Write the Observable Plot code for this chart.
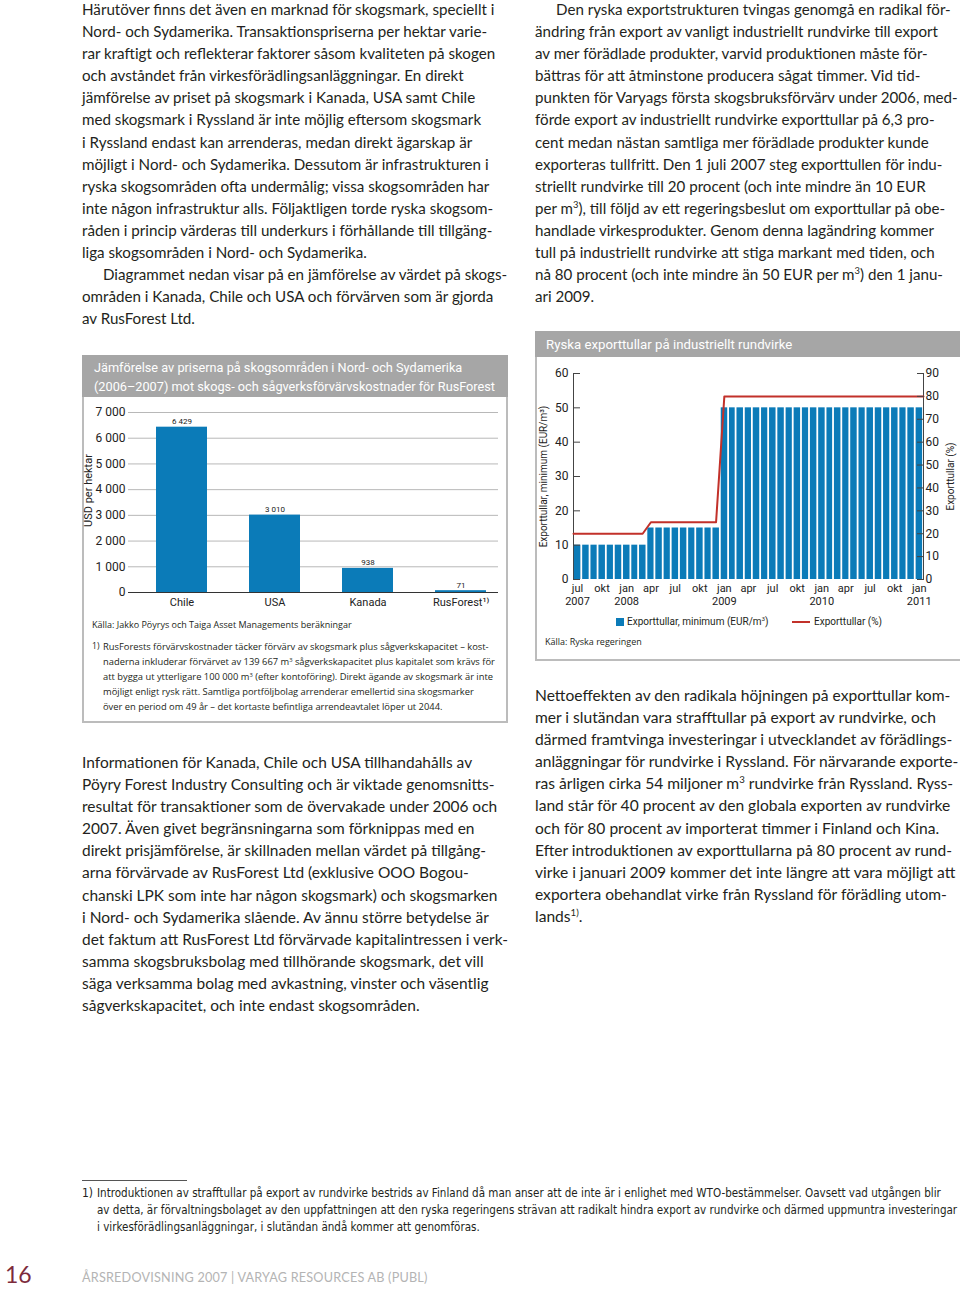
<!DOCTYPE html>
<html><head><meta charset="utf-8">
<script src="https://cdn.jsdelivr.net/npm/d3@7"></script>
<script src="https://cdn.jsdelivr.net/npm/@observablehq/plot@0.6"></script>
<style>
html,body{margin:0;padding:0;background:#fff;}
#page{position:relative;width:960px;height:1289px;overflow:hidden;font-family:Lato,"Open Sans",sans-serif;color:#231f20;}
.col{position:absolute;font-size:15px;line-height:22.1px;}
.col div{white-space:nowrap;}
.ind{padding-left:21px;}
sup{font-size:0.62em;line-height:0;vertical-align:0.6em;}
.box{position:absolute;border:2px solid #bcbcbc;box-sizing:border-box;background:#fff;}
.hdr{position:absolute;background:#a6a6a6;color:#fff;font-family:Roboto,sans-serif;}
.note{position:absolute;font-family:"Open Sans",sans-serif;color:#231f20;white-space:nowrap;}
svg{position:absolute;}
</style></head>
<body><div id="page">

<div class="col" id="c1" style="left:82px;top:-2px;">
<div>Härutöver finns det även en marknad för skogsmark, speciellt i</div>
<div>Nord- och Sydamerika. Transaktionspriserna per hektar varie-</div>
<div>rar kraftigt och reflekterar faktorer såsom kvaliteten på skogen</div>
<div>och avståndet från virkesförädlingsanläggningar. En direkt</div>
<div>jämförelse av priset på skogsmark i Kanada, USA samt Chile</div>
<div>med skogsmark i Ryssland är inte möjlig eftersom skogsmark</div>
<div>i Ryssland endast kan arrenderas, medan direkt ägarskap är</div>
<div>möjligt i Nord- och Sydamerika. Dessutom är infrastrukturen i</div>
<div>ryska skogsområden ofta undermålig; vissa skogsområden har</div>
<div>inte någon infrastruktur alls. Följaktligen torde ryska skogsom-</div>
<div>råden i princip värderas till underkurs i förhållande till tillgäng-</div>
<div>liga skogsområden i Nord- och Sydamerika.</div>
<div class="ind">Diagrammet nedan visar på en jämförelse av värdet på skogs-</div>
<div>områden i Kanada, Chile och USA och förvärven som är gjorda</div>
<div>av RusForest Ltd.</div>
</div>

<div class="col" id="c2" style="left:82px;top:751px;">
<div>Informationen för Kanada, Chile och USA tillhandahålls av</div>
<div>Pöyry Forest Industry Consulting och är viktade genomsnitts-</div>
<div>resultat för transaktioner som de övervakade under 2006 och</div>
<div>2007. Även givet begränsningarna som förknippas med en</div>
<div>direkt prisjämförelse, är skillnaden mellan värdet på tillgång-</div>
<div>arna förvärvade av RusForest Ltd (exklusive OOO Bogou-</div>
<div>chanski LPK som inte har någon skogsmark) och skogsmarken</div>
<div>i Nord- och Sydamerika slående. Av ännu större betydelse är</div>
<div>det faktum att RusForest Ltd förvärvade kapitalintressen i verk-</div>
<div>samma skogsbruksbolag med tillhörande skogsmark, det vill</div>
<div>säga verksamma bolag med avkastning, vinster och väsentlig</div>
<div>sågverkskapacitet, och inte endast skogsområden.</div>
</div>

<div class="col" id="c3" style="left:535px;top:-2px;">
<div class="ind">Den ryska exportstrukturen tvingas genomgå en radikal för-</div>
<div>ändring från export av vanligt industriellt rundvirke till export</div>
<div>av mer förädlade produkter, varvid produktionen måste för-</div>
<div>bättras för att åtminstone producera sågat timmer. Vid tid-</div>
<div>punkten för Varyags första skogsbruksförvärv under 2006, med-</div>
<div>förde export av industriellt rundvirke exporttullar på 6,3 pro-</div>
<div>cent medan nästan samtliga mer förädlade produkter kunde</div>
<div>exporteras tullfritt. Den 1 juli 2007 steg exporttullen för indu-</div>
<div>striellt rundvirke till 20 procent (och inte mindre än 10 EUR</div>
<div>per m<sup>3</sup>), till följd av ett regeringsbeslut om exporttullar på obe-</div>
<div>handlade virkesprodukter. Genom denna lagändring kommer</div>
<div>tull på industriellt rundvirke att stiga markant med tiden, och</div>
<div>nå 80 procent (och inte mindre än 50 EUR per m<sup>3</sup>) den 1 janu-</div>
<div>ari 2009.</div>
</div>

<div class="col" id="c4" style="left:535px;top:684px;">
<div>Nettoeffekten av den radikala höjningen på exporttullar kom-</div>
<div>mer i slutändan vara strafftullar på export av rundvirke, och</div>
<div>därmed framtvinga investeringar i utvecklandet av förädlings-</div>
<div>anläggningar för rundvirke i Ryssland. För närvarande exporte-</div>
<div>ras årligen cirka 54 miljoner m<sup>3</sup> rundvirke från Ryssland. Ryss-</div>
<div>land står för 40 procent av den globala exporten av rundvirke</div>
<div>och för 80 procent av importerat timmer i Finland och Kina.</div>
<div>Efter introduktionen av exporttullarna på 80 procent av rund-</div>
<div>virke i januari 2009 kommer det inte längre att vara möjligt att</div>
<div>exportera obehandlat virke från Ryssland för förädling utom-</div>
<div>lands<sup>1)</sup>.</div>
</div>

<!-- left chart box -->
<div class="box" style="left:82px;top:355px;width:426px;height:368px;"></div>
<div class="hdr" style="left:82px;top:355px;width:426px;height:42px;"></div>
<div class="hdr" id="h1" style="left:94px;top:357.5px;background:none;font-size:13px;line-height:19px;white-space:nowrap;">
<div>Jämförelse av priserna på skogsområden i Nord- och Sydamerika</div>
<div>(2006–2007) mot skogs- och sågverksförvärvskostnader för RusForest</div>
</div>
<div id="chart1"></div>
<div class="note" style="left:92px;top:618px;font-size:9px;line-height:14px;">Källa: Jakko Pöyrys och Taiga Asset Managements beräkningar</div>
<div class="note" style="left:92px;top:639px;font-size:8.6px;line-height:15px;">1)</div>
<div class="note" id="fn1" style="left:103px;top:639px;font-size:8.6px;line-height:15px;">
<div>RusForests förvärvskostnader täcker förvärv av skogsmark plus sågverkskapacitet – kost-</div>
<div>naderna inkluderar förvärvet av 139 667 m<sup>3</sup> sågverkskapacitet plus kapitalet som krävs för</div>
<div>att bygga ut ytterligare 100 000 m<sup>3</sup> (efter kontoföring). Direkt ägande av skogsmark är inte</div>
<div>möjligt enligt rysk rätt. Samtliga portföljbolag arrenderar emellertid sina skogsmarker</div>
<div>över en period om 49 år – det kortaste befintliga arrendeavtalet löper ut 2044.</div>
</div>

<!-- right chart box -->
<div class="box" style="left:535px;top:331px;width:430px;height:330px;"></div>
<div class="hdr" style="left:535px;top:331px;width:430px;height:26px;"></div>
<div class="hdr" id="h2" style="left:546px;top:334.5px;background:none;font-size:12.5px;line-height:19px;white-space:nowrap;"><div>Ryska exporttullar på industriellt rundvirke</div></div>
<div id="chart2"></div>
<div class="note" style="left:616px;top:618px;width:8px;height:8px;background:#0b7bb8;"></div>
<div class="note" style="left:627px;top:615px;font-family:Roboto,sans-serif;font-size:10px;line-height:14px;">Exporttullar, minimum (EUR/m<sup>3</sup>)</div>
<div class="note" style="left:792px;top:621px;width:18px;height:2px;background:#c2312a;"></div>
<div class="note" style="left:814px;top:615px;font-family:Roboto,sans-serif;font-size:10px;line-height:14px;">Exporttullar (%)</div>
<div class="note" style="left:545px;top:635px;font-size:9px;line-height:14px;">Källa: Ryska regeringen</div>

<!-- page footnote -->
<div style="position:absolute;left:82px;top:1180px;width:105px;height:1px;background:#555;"></div>
<div class="note" style="left:82px;top:1184.5px;font-family:'Liberation Sans Narrow','DejaVu Sans Condensed',sans-serif;font-size:12px;line-height:17px;">1)</div>
<div class="note" id="fn2" style="left:97px;top:1184.5px;font-family:'Liberation Sans Narrow','DejaVu Sans Condensed',sans-serif;font-size:11px;line-height:17px;">
<div>Introduktionen av strafftullar på export av rundvirke bestrids av Finland då man anser att de inte är i enlighet med WTO-bestämmelser. Oavsett vad utgången blir</div>
<div>av detta, är förvaltningsbolaget av den uppfattningen att den ryska regeringens strävan att radikalt hindra export av rundvirke och därmed uppmuntra investeringar</div>
<div>i virkesförädlingsanläggningar, i slutändan ändå kommer att genomföras.</div>
</div>

<div class="note" style="left:5px;top:1260px;font-family:Lato,sans-serif;font-size:23px;line-height:28px;color:#7d2b3c;">16</div>
<div class="note" id="ft" style="left:82px;top:1269px;font-family:Lato,sans-serif;font-size:12.5px;line-height:16px;color:#b4b4b4;letter-spacing:0.2px;"><div>ÅRSREDOVISNING 2007 | VARYAG RESOURCES AB (PUBL)</div></div>

</div>
<script>
// ---------- Chart 1 data ----------
const countries = ["Chile", "USA", "Kanada", "RusForest¹⁾"];
const usdPerHektar = [6429, 3010, 938, 71];
const usdTicks = [0, 1000, 2000, 3000, 4000, 5000, 6000, 7000];

// ---------- Chart 2 data ----------
const months = ["2007-07","2007-08","2007-09","2007-10","2007-11","2007-12",
  "2008-01","2008-02","2008-03","2008-04","2008-05","2008-06","2008-07","2008-08","2008-09","2008-10","2008-11","2008-12",
  "2009-01","2009-02","2009-03","2009-04","2009-05","2009-06","2009-07","2009-08","2009-09","2009-10","2009-11","2009-12",
  "2010-01","2010-02","2010-03","2010-04","2010-05","2010-06","2010-07","2010-08","2010-09","2010-10","2010-11","2010-12",
  "2011-01"];
const eurMinimum = [10,10,10,10,10,10,10,10,10,
  15,15,15,15,15,15,15,15,15,
  50,50,50,50,50,50,50,50,50,50,50,50,50,50,50,50,50,50,50,50,50,50,50,50,50];
const dutyPercent = [20,20,20,20,20,20,20,20,20,
  25,25,25,25,25,25,25,25,25,
  80,80,80,80,80,80,80,80,80,80,80,80,80,80,80,80,80,80,80,80,80,80,80,80,80];
const tickMonths = ["2007-07","2007-10","2008-01","2008-04","2008-07","2008-10","2009-01","2009-04","2009-07","2009-10","2010-01","2010-04","2010-07","2010-10","2011-01"];
const tickLabels = ["jul\n2007","okt","jan\n2008","apr","jul","okt","jan\n2009","apr","jul","okt","jan\n2010","apr","jul","okt","jan\n2011"];
const eurTicks = [0, 10, 20, 30, 40, 50, 60];
const pctTicks = [0, 10, 20, 30, 40, 50, 60, 70, 80, 90];

const BLUE = "#0b7bb8", RED = "#c2312a";
const fmt = d => d3.format(",")(d).replace(/,/g, "\u00a0");

// ---------- Chart 1 ----------
try {
const rows1 = countries.map((c, i) => ({country: c, usd: usdPerHektar[i]}));
const chart1 = Plot.plot({
  width: 426, height: 218,
  marginLeft: 46, marginRight: 10, marginTop: 14, marginBottom: 24,
  style: {fontFamily: "Roboto, sans-serif", color: "#222", background: "transparent", overflow: "visible"},
  x: {type: "band", domain: countries, paddingInner: 0.448, paddingOuter: 0.2, align: 0.7, label: null},
  y: {domain: [0, 7000], label: null},
  marks: [
    Plot.gridY(usdTicks.filter(v => v > 0), {stroke: "#b8b8b8", strokeOpacity: 1}),
    Plot.barY(rows1, {x: "country", y: "usd", fill: BLUE}),
    Plot.ruleY([0], {stroke: "#333", strokeWidth: 1.2}),
    Plot.text(rows1, {x: "country", y: "usd", text: d => fmt(d.usd), lineAnchor: "bottom", dy: -3, fontSize: 8, fill: "#222"}),
    Plot.axisY(usdTicks, {tickSize: 0, tickPadding: 3, tickFormat: fmt, fontSize: 12, label: null}),
    Plot.axisX({tickSize: 0, tickPadding: 6, fontSize: 11, label: null}),
    Plot.text(["USD per hektar"], {frameAnchor: "left", textAnchor: "middle", rotate: -90, dx: -40, dy: -12, fontSize: 11, fill: "#222"})
  ]
});
chart1.style.left = "82px"; chart1.style.top = "398px";
document.getElementById("chart1").appendChild(chart1);
} catch (e) { console.error(e); }

// ---------- Chart 2 ----------
try {
const rows2 = months.map((m, i) => {
  const start = new Date(m + "-01T00:00:00Z");
  return {start, end: d3.utcMonth.offset(start, 1), mid: d3.utcDay.offset(start, 15), eur: eurMinimum[i], pct: dutyPercent[i]};
});
const x0 = rows2[0].start, x1 = rows2[rows2.length - 1].end;
const lineRows = [{date: x0, pct: rows2[0].pct}, ...rows2.map(r => ({date: r.mid, pct: r.pct})), {date: x1, pct: rows2[rows2.length - 1].pct}];
const tickDates = tickMonths.map(m => d3.utcDay.offset(new Date(m + "-01T00:00:00Z"), 15));
const labelMap = new Map(tickDates.map((d, i) => [+d, tickLabels[i]]));
const k = 60 / 90;

const chart2 = Plot.plot({
  width: 424, height: 252,
  marginLeft: 37, marginRight: 37, marginTop: 15, marginBottom: 31,
  style: {fontFamily: "Roboto, sans-serif", color: "#222", background: "transparent", overflow: "visible"},
  x: {type: "utc", domain: [x0, x1], label: null},
  y: {domain: [0, 60], label: null},
  marks: [
    Plot.ruleX([x0, x1], {stroke: "#444", strokeWidth: 1}),
    Plot.rectY(rows2, {x1: "start", x2: "end", y1: 0, y2: "eur", fill: BLUE, insetLeft: 0.9, insetRight: 0.9}),
    Plot.line(lineRows, {x: "date", y: d => d.pct * k, stroke: RED, strokeWidth: 2}),
    Plot.axisY(eurTicks, {anchor: "left", tickSize: -7, tickPadding: 12, fontSize: 12, label: null, stroke: "#444"}),
    Plot.axisY(pctTicks.map(v => v * k), {anchor: "right", tickSize: -7, tickPadding: 9, tickFormat: v => Math.round(v / k), fontSize: 12, label: null, stroke: "#444"}),
    Plot.axisX(tickDates, {tickSize: 0, tickPadding: 4, tickFormat: d => labelMap.get(+d), fontSize: 11, lineHeight: 1.15, label: null}),
    Plot.text(["Exporttullar, minimum (EUR/m³)"], {frameAnchor: "left", textAnchor: "middle", rotate: -90, dx: -30, fontSize: 10, fill: "#222"}),
    Plot.text(["Exporttullar (%)"], {frameAnchor: "right", textAnchor: "middle", rotate: -90, dx: 27, fontSize: 10, fill: "#222"})
  ]
});
chart2.style.left = "536px"; chart2.style.top = "358px";
document.getElementById("chart2").appendChild(chart2);
} catch (e) { console.error(e); }

// ---------- fit text widths (widest line of each block) ----------
function fit(id, target) {
  const col = document.getElementById(id);
  const left = col.getBoundingClientRect().left;
  let w = 0;
  for (const line of col.children) {
    const r = document.createRange(); r.selectNodeContents(line);
    w = Math.max(w, r.getBoundingClientRect().right - left);
  }
  const fs = parseFloat(getComputedStyle(col).fontSize);
  if (w > 0) col.style.fontSize = (fs * target / w) + "px";
}
function fitAll() {
  fit("c1", 425); fit("c2", 426); fit("c3", 423); fit("c4", 423);
  fit("fn2", 860); fit("ft", 346); fit("fn1", 392);
  fit("h1", 401); fit("h2", 246);
}
fitAll();
if (document.fonts) document.fonts.ready.then(fitAll);
</script>
</body></html>
